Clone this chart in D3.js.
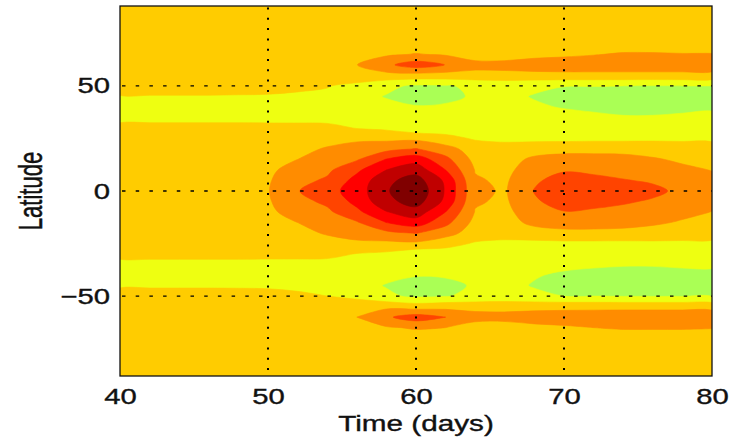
<!DOCTYPE html>
<html>
<head>
<meta charset="utf-8">
<script src="https://cdn.jsdelivr.net/npm/d3@7"></script>
<style>
  body { margin: 0; background: #fff; }
  svg { display: block; }
  text { font-family: "Liberation Sans", Arial, Helvetica, sans-serif; fill: #111; stroke: #111; stroke-width: 0.35; }
</style>
</head>
<body>
<svg id="chart" width="746" height="440"></svg>
<script>
// field: one row per latitude, one column per day
const days = [40, 42, 44, 46, 48, 50, 52, 54, 56, 58, 60, 62, 64, 66, 68, 70, 72, 74, 76, 78, 80]
const lats = [90, 85, 80, 75, 70, 65, 60, 55, 50, 45, 40, 35, 30, 25, 20, 15, 10, 5, 0,
  -5, -10, -15, -20, -25, -30, -35, -40, -45, -50, -55, -60, -65, -70, -75, -80, -85, -90]

const field = [
  [2.5, 2.5, 2.5, 2.5, 2.5, 2.5, 2.5, 2.5, 2.5, 2.5, 2.5, 2.5, 2.5, 2.5, 2.5, 2.5, 2.5, 2.5, 2.5, 2.5, 2.5], // 90
  [2.5, 2.5, 2.5, 2.5, 2.5, 2.5, 2.5, 2.5, 2.5, 2.5, 2.5, 2.5, 2.5, 2.5, 2.5, 2.5, 2.5, 2.5, 2.5, 2.5, 2.5], // 85
  [2.5, 2.5, 2.5, 2.5, 2.5, 2.5, 2.5, 2.5, 2.5, 2.5, 2.5, 2.5, 2.5, 2.5, 2.5, 2.5, 2.5, 2.5, 2.5, 2.5, 2.5], // 80
  [2.5, 2.5, 2.5, 2.5, 2.5, 2.5, 2.5, 2.5, 2.5, 2.5, 2.5, 2.5, 2.5, 2.5, 2.5, 2.5, 2.5, 2.5, 2.5, 2.5, 2.5], // 75
  [2.5, 2.5, 2.5, 2.5, 2.5, 2.5, 2.5, 2.5, 2.5, 2.5, 2.5, 2.5, 2.5, 2.5, 2.5, 2.5, 2.5, 2.5, 2.5, 2.5, 2.5], // 70
  [2.5, 2.5, 2.5, 2.5, 2.5, 2.5, 2.5, 2.5, 2.6, 2.85, 3.05, 2.9, 2.4, 2.4, 2.7, 2.8, 2.95, 3.1, 3.1, 3.05, 3.05], // 65
  [2.5, 2.5, 2.5, 2.5, 2.5, 2.5, 2.5, 2.7, 2.98, 3.8, 4.5, 3.98, 3.4, 3.4, 3.5, 3.6, 3.6, 3.6, 3.6, 3.6, 3.6], // 60
  [2.5, 2.5, 2.5, 2.5, 2.5, 2.5, 2.5, 2.5, 2.7, 2.65, 2.6, 2.6, 2.6, 2.65, 2.7, 2.7, 2.7, 2.7, 2.7, 2.7, 2.7], // 55
  [2.5, 2.5, 2.5, 2.5, 2.45, 2.4, 2.2, 2.05, 1.7, 1.2, 0.85, 0.9, 1.2, 1.3, 1.15, 1.02, 1.02, 1.0, 0.95, 1.0, 1.0], // 50
  [1.94, 1.94, 1.94, 1.94, 1.92, 1.9, 1.85, 1.8, 1.3, 0.95, 0.7, 0.8, 1.1, 1.2, 0.95, 0.75, 0.7, 0.7, 0.7, 0.7, 0.7], // 45
  [1.5, 1.5, 1.5, 1.5, 1.5, 1.5, 1.5, 1.5, 1.45, 1.2, 1.05, 1.1, 1.2, 1.25, 1.1, 0.95, 0.85, 0.8, 0.8, 0.85, 0.9], // 40
  [1.5, 1.5, 1.5, 1.5, 1.5, 1.5, 1.55, 1.6, 1.6, 1.3, 1.1, 1.2, 1.3, 1.35, 1.3, 1.25, 1.15, 1.05, 1.05, 1.1, 1.15], // 35
  [2.5, 2.5, 2.5, 2.5, 2.5, 2.45, 2.4, 2.3, 1.95, 1.8, 1.3, 1.5, 1.5, 1.5, 1.45, 1.4, 1.35, 1.3, 1.3, 1.35, 1.4], // 30
  [2.5, 2.5, 2.5, 2.5, 2.5, 2.5, 2.5, 2.6, 2.8, 2.75, 2.75, 2.3, 1.9, 1.8, 1.75, 1.7, 1.75, 1.75, 1.8, 1.8, 1.8], // 25
  [2.5, 2.5, 2.5, 2.5, 2.5, 2.55, 2.7, 3.1, 3.4, 3.7, 4.05, 3.4, 2.5, 2.35, 2.55, 2.7, 2.7, 2.7, 2.6, 2.5, 2.45], // 20
  [2.5, 2.5, 2.5, 2.5, 2.55, 2.65, 3.0, 3.45, 3.9, 5.05, 5.6, 4.3, 2.7, 2.6, 3.2, 3.35, 3.35, 3.3, 3.1, 2.85, 2.75], // 15
  [2.5, 2.5, 2.5, 2.5, 2.6, 2.8, 3.4, 3.8, 4.8, 6.0, 6.6, 5.0, 2.95, 2.75, 3.5, 3.9, 3.8, 3.7, 3.55, 3.2, 2.97], // 10
  [2.5, 2.5, 2.5, 2.52, 2.65, 2.9, 3.7, 4.15, 5.35, 6.75, 7.45, 5.8, 3.1, 2.85, 3.85, 4.4, 4.25, 4.05, 3.9, 3.55, 3.2], // 5
  [2.5, 2.5, 2.5, 2.55, 2.7, 2.95, 3.95, 4.6, 5.5, 6.9, 7.8, 5.9, 3.2, 2.9, 4.05, 4.6, 4.5, 4.4, 4.2, 3.8, 3.4], // 0
  [2.5, 2.5, 2.5, 2.52, 2.65, 2.9, 3.7, 4.2, 5.3, 6.7, 7.45, 5.75, 3.1, 2.85, 3.85, 4.45, 4.3, 4.1, 3.9, 3.5, 3.2], // -5
  [2.5, 2.5, 2.5, 2.5, 2.6, 2.8, 3.4, 3.8, 4.75, 5.95, 6.55, 5.0, 2.95, 2.75, 3.55, 3.95, 3.85, 3.75, 3.55, 3.25, 2.98], // -10
  [2.5, 2.5, 2.5, 2.5, 2.55, 2.65, 3.0, 3.45, 3.9, 5.0, 5.55, 4.3, 2.7, 2.6, 3.25, 3.4, 3.4, 3.35, 3.15, 2.9, 2.75], // -15
  [2.5, 2.5, 2.5, 2.5, 2.5, 2.55, 2.7, 3.1, 3.4, 3.75, 4.05, 3.4, 2.5, 2.35, 2.55, 2.75, 2.75, 2.7, 2.6, 2.5, 2.45], // -20
  [2.5, 2.5, 2.5, 2.5, 2.5, 2.5, 2.5, 2.6, 2.8, 2.75, 2.8, 2.35, 1.9, 1.8, 1.75, 1.75, 1.75, 1.75, 1.8, 1.8, 1.8], // -25
  [2.5, 2.5, 2.5, 2.5, 2.5, 2.45, 2.4, 2.3, 1.95, 1.8, 1.3, 1.5, 1.5, 1.5, 1.45, 1.4, 1.35, 1.3, 1.3, 1.35, 1.4], // -30
  [1.5, 1.5, 1.5, 1.5, 1.5, 1.5, 1.55, 1.6, 1.6, 1.3, 1.15, 1.2, 1.3, 1.35, 1.25, 1.15, 1.1, 1.05, 1.05, 1.1, 1.1], // -35
  [1.5, 1.5, 1.5, 1.5, 1.5, 1.5, 1.5, 1.5, 1.45, 1.2, 1.05, 1.1, 1.2, 1.25, 1.05, 0.9, 0.8, 0.75, 0.75, 0.8, 0.85], // -40
  [1.85, 1.85, 1.85, 1.85, 1.85, 1.85, 1.82, 1.8, 1.3, 0.95, 0.7, 0.75, 1.1, 1.2, 0.95, 0.75, 0.7, 0.7, 0.7, 0.7, 0.7], // -45
  [2.5, 2.5, 2.5, 2.5, 2.45, 2.35, 2.15, 2.0, 1.7, 1.15, 0.85, 0.95, 1.2, 1.3, 1.15, 1.0, 1.0, 0.95, 0.95, 0.95, 0.95], // -50
  [2.5, 2.5, 2.5, 2.5, 2.5, 2.5, 2.5, 2.5, 2.7, 2.75, 2.5, 2.65, 2.65, 2.65, 2.7, 2.7, 2.7, 2.7, 2.7, 2.7, 2.7], // -55
  [2.5, 2.5, 2.5, 2.5, 2.5, 2.5, 2.5, 2.7, 3.0, 3.85, 4.5, 4.0, 3.4, 3.35, 3.45, 3.55, 3.6, 3.65, 3.65, 3.65, 3.6], // -60
  [2.5, 2.5, 2.5, 2.5, 2.5, 2.5, 2.5, 2.5, 2.6, 2.9, 3.1, 3.0, 2.5, 2.5, 2.75, 2.85, 3.0, 3.1, 3.1, 3.1, 3.05], // -65
  [2.5, 2.5, 2.5, 2.5, 2.5, 2.5, 2.5, 2.5, 2.5, 2.5, 2.5, 2.5, 2.5, 2.5, 2.5, 2.5, 2.5, 2.5, 2.5, 2.5, 2.5], // -70
  [2.5, 2.5, 2.5, 2.5, 2.5, 2.5, 2.5, 2.5, 2.5, 2.5, 2.5, 2.5, 2.5, 2.5, 2.5, 2.5, 2.5, 2.5, 2.5, 2.5, 2.5], // -75
  [2.5, 2.5, 2.5, 2.5, 2.5, 2.5, 2.5, 2.5, 2.5, 2.5, 2.5, 2.5, 2.5, 2.5, 2.5, 2.5, 2.5, 2.5, 2.5, 2.5, 2.5], // -80
  [2.5, 2.5, 2.5, 2.5, 2.5, 2.5, 2.5, 2.5, 2.5, 2.5, 2.5, 2.5, 2.5, 2.5, 2.5, 2.5, 2.5, 2.5, 2.5, 2.5, 2.5], // -85
  [2.5, 2.5, 2.5, 2.5, 2.5, 2.5, 2.5, 2.5, 2.5, 2.5, 2.5, 2.5, 2.5, 2.5, 2.5, 2.5, 2.5, 2.5, 2.5, 2.5, 2.5]  // -90
]

const levels = [1, 2, 3, 4, 5, 6, 7]
// fill below the first level, then above each level
const colors = ['#aaff55', '#eeff11', '#ffcc00', '#ff8c00', '#ff4400', '#ff0000', '#c00000', '#800000']
const xTicks = [40, 50, 60, 70, 80]
const yTicks = [-50, 0, 50]
const xGrid = [50, 60, 70]
const yGrid = [-50, 0, 50]

const width = 746
const height = 440
const margin = {top: 6, right: 34, bottom: 64, left: 120}

const x = d3.scaleLinear().domain([40, 80]).range([margin.left, width - margin.right])
const y = d3.scaleLinear().domain([-88, 88]).range([height - margin.bottom, margin.top])

const svg = d3.select('#chart')

svg.append('defs')
  .append('clipPath')
  .attr('id', 'plot-clip')
  .append('rect')
  .attr('x', x(40))
  .attr('y', y(88))
  .attr('width', x(80) - x(40))
  .attr('height', y(-88) - y(88))

// filled contours, grid cell centres sit at index + 0.5
const contours = d3.contours()
  .size([days.length, lats.length])
  .thresholds(levels)(field.flat())

const dDay = days[1] - days[0]
const dLat = lats[1] - lats[0]
const toXY = ([gx, gy]) => [x(days[0] + (gx - 0.5) * dDay), y(lats[0] + (gy - 0.5) * dLat)]
const ringLine = d3.line().curve(d3.curveCatmullRomClosed.alpha(0.5))
const bandPath = c =>
  c.coordinates
    .map(poly => poly.map(ring => ringLine(ring.slice(0, -1).map(toXY))).join(''))
    .join('')

const plot = svg.append('g').attr('clip-path', 'url(#plot-clip)')

plot.append('rect')
  .attr('x', x(40))
  .attr('y', y(88))
  .attr('width', x(80) - x(40))
  .attr('height', y(-88) - y(88))
  .attr('fill', colors[0])

plot.selectAll('path.band')
  .data(contours)
  .enter()
  .append('path')
  .attr('class', 'band')
  .attr('d', bandPath)
  .attr('fill', (d, i) => colors[i + 1])
  .attr('fill-rule', 'evenodd')
  .attr('stroke', (d, i) => colors[i + 1])
  .attr('stroke-width', 0.6)

// dotted grid
svg.append('g')
  .selectAll('line')
  .data(xGrid)
  .enter()
  .append('line')
  .attr('x1', d => x(d))
  .attr('x2', d => x(d))
  .attr('y1', y(88))
  .attr('y2', y(-88))
  .attr('stroke', '#000')
  .attr('stroke-width', 2)
  .attr('stroke-dasharray', '2 8.3')
  .attr('stroke-dashoffset', -1.5)

svg.append('g')
  .selectAll('line')
  .data(yGrid)
  .enter()
  .append('line')
  .attr('x1', x(40))
  .attr('x2', x(80))
  .attr('y1', d => y(d))
  .attr('y2', d => y(d))
  .attr('stroke', '#000')
  .attr('stroke-width', 1.4)
  .attr('stroke-dasharray', '3.5 10.2')
  .attr('stroke-dashoffset', -2)

// frame
svg.append('rect')
  .attr('x', x(40))
  .attr('y', y(88))
  .attr('width', x(80) - x(40))
  .attr('height', y(-88) - y(88))
  .attr('fill', 'none')
  .attr('stroke', '#111')
  .attr('stroke-width', 1.3)

// axes, labels are stretched sideways like the original
const xAxis = d3.axisBottom(x).tickValues(xTicks).tickSize(0).tickPadding(12)
const yAxis = d3.axisLeft(y).tickValues(yTicks).tickSize(0).tickPadding(7.5)

svg.append('g')
  .attr('transform', `translate(0, ${y(-88)})`)
  .call(xAxis)
  .call(g => g.select('.domain').remove())
  .attr('font-size', 22)
  .attr('font-family', null)
  .selectAll('text')
  .attr('transform', 'scale(1.33, 1)')

svg.append('g')
  .attr('transform', `translate(${x(40)}, 0)`)
  .call(yAxis)
  .call(g => g.select('.domain').remove())
  .attr('font-size', 22)
  .attr('font-family', null)
  .selectAll('text')
  .attr('transform', 'scale(1.33, 1)')

svg.append('text')
  .attr('class', 'label')
  .attr('transform', `translate(${(x(40) + x(80)) / 2}, 431) scale(1.35, 1)`)
  .attr('text-anchor', 'middle')
  .attr('font-size', 22)
  .text('Time (days)')

svg.append('text')
  .attr('class', 'label')
  .attr('transform', `translate(42, ${(y(-88) + y(88)) / 2}) scale(1.5, 1) rotate(-90)`)
  .attr('text-anchor', 'middle')
  .attr('font-size', 22)
  .text('Latitude')
</script>
</body>
</html>
